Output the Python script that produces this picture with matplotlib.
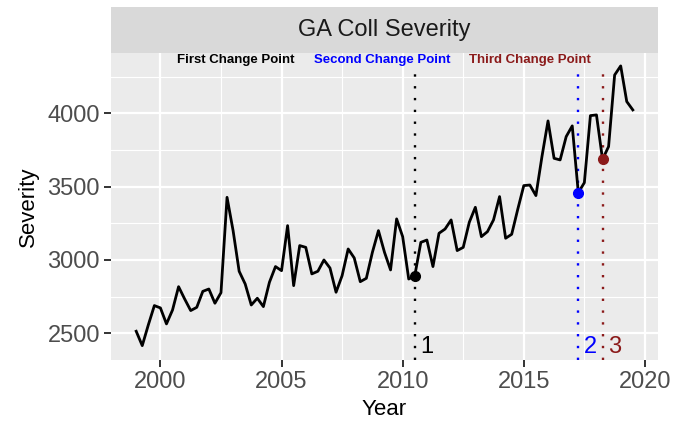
import matplotlib
matplotlib.use("Agg")
import matplotlib.pyplot as plt
import numpy as np

plt.rcParams['font.family'] = ['Liberation Sans', 'DejaVu Sans']

# ---- data (quarterly) ----
start_year = 1999
severity = [
    2514, 2416, 2557, 2689,
    2673, 2564, 2659, 2818,
    2734, 2655, 2677, 2786,
    2802, 2705, 2777, 3427,
    3200, 2923, 2836, 2693,
    2739, 2682, 2848, 2955,
    2927, 3234, 2825, 3098,
    3086, 2905, 2923, 3000,
    2945, 2780, 2893, 3075,
    3014, 2852, 2875, 3052,
    3200, 3052, 2932, 3280,
    3159, 2870, 2893, 3120,
    3136, 2955, 3182, 3211,
    3273, 3064, 3086, 3257,
    3359, 3159, 3193, 3273,
    3432, 3148, 3175, 3345,
    3507, 3511, 3439, 3705,
    3948, 3693, 3682, 3841,
    3914, 3459, 3527, 3984,
    3989, 3686, 3773, 4261,
    4323, 4080, 4023,
]
years = [start_year + i / 4 for i in range(len(severity))]

change_points = [2010.5, 2017.25, 2018.25]
cp_labels = ["1", "2", "3"]
cp_colors = ["black", "blue", "#8B1A1A"]
cp_names = ["First Change Point", "Second Change Point", "Third Change Point"]
cp_name_x = [2003.13, 2009.15, 2015.26]
cp_name_y = 4363
cp_num_y = 2407
cp_line_top = 4290

x_ticks = [2000, 2005, 2010, 2015, 2020]
y_ticks = [2500, 3000, 3500, 4000]
title = "GA Coll Severity"

# ---- figure ----
W, H = 673, 424
fig = plt.figure(figsize=(W / 100, H / 100), dpi=100)
L, R, B, T = 111 / W, 658 / W, 1 - 360 / H, 1 - 53 / H
ax = fig.add_axes([L, B, R - L, T - B])
sax = fig.add_axes([L, T, R - L, (53 - 7) / H])

ax.set_facecolor("#EBEBEB")
for s in ax.spines.values():
    s.set_visible(False)
ylo, yhi = 2318, 4411
ax.set_xlim(1997.96, 2020.54)
ax.set_ylim(ylo, yhi)
ax.set_xticks(x_ticks)
ax.set_yticks(y_ticks)
ax.set_xticks([2002.5, 2007.5, 2012.5, 2017.5], minor=True)
ax.set_yticks([2750, 3250, 3750, 4250], minor=True)
ax.grid(True, which="major", color="white", linewidth=1.6)
ax.grid(True, which="minor", color="white", linewidth=0.8)
ax.set_axisbelow(True)
ax.tick_params(which="major", length=5, width=1.4, color="#333333",
               labelsize=17, labelcolor="#4D4D4D", pad=3)
ax.tick_params(which="minor", length=0)

ax.plot(years, severity, color="black", linewidth=2.0, zorder=3)

for cp, lab, col in zip(change_points, cp_labels, cp_colors):
    ax.axvline(cp, ymin=0, ymax=(cp_line_top - ylo) / (yhi - ylo), color=col,
               linewidth=1.7, linestyle=(0, (1, 4.0)), zorder=2)
    yv = severity[years.index(cp)]
    ax.plot([cp], [yv], "o", color=col, markersize=7, zorder=4)
    ax.annotate(lab, xy=(cp, cp_num_y), xytext=(4, 0), textcoords="offset points",
                ha="left", va="center", fontsize=17, color=col)

for name, nx, col in zip(cp_names, cp_name_x, cp_colors):
    ax.text(nx, cp_name_y, name, ha="center", va="center", fontsize=9.5,
            fontweight="bold", color=col)

ax.set_xlabel("Year", fontsize=16, color="black", labelpad=4)
ax.set_ylabel("Severity", fontsize=16, color="black", labelpad=6)

# strip
sax.set_facecolor("#D9D9D9")
sax.set_xticks([])
sax.set_yticks([])
for s in sax.spines.values():
    s.set_visible(False)
sax.text(0.5, 0.5, title, ha="center", va="center", fontsize=17,
         color="#1A1A1A", transform=sax.transAxes)

fig.savefig("out.png", dpi=100)
